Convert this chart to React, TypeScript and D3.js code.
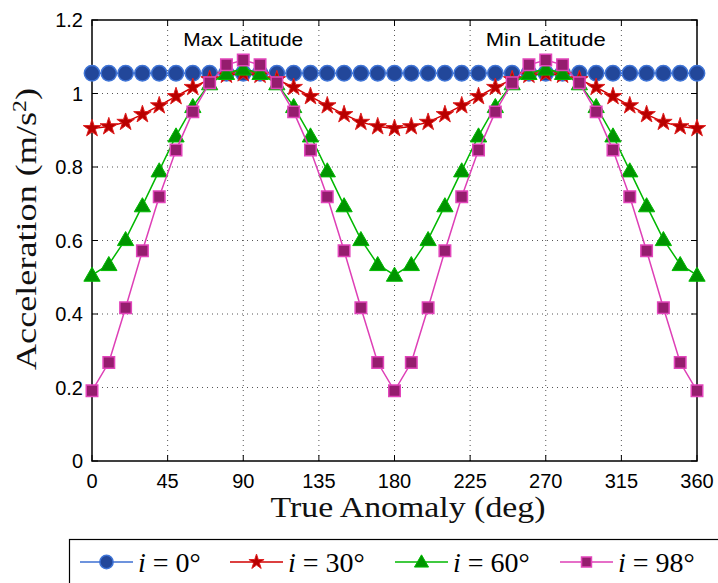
import React from "react";
import * as d3 from "d3";

const anomaly = [0,10,20,30,40,50,60,70,80,90,100,110,120,130,140,150,160,170,180,190,200,210,220,230,240,250,260,270,280,290,300,310,320,330,340,350,360];
const acc0 = [1.055,1.055,1.055,1.055,1.055,1.055,1.055,1.055,1.055,1.055,1.055,1.055,1.055,1.055,1.055,1.055,1.055,1.055,1.055,1.055,1.055,1.055,1.055,1.055,1.055,1.055,1.055,1.055,1.055,1.055,1.055,1.055,1.055,1.055,1.055,1.055,1.055];
const acc30 = [0.905,0.91,0.922,0.943,0.967,0.992,1.017,1.038,1.05,1.054,1.05,1.038,1.017,0.992,0.967,0.943,0.922,0.91,0.905,0.91,0.922,0.943,0.967,0.992,1.017,1.038,1.05,1.054,1.05,1.038,1.017,0.992,0.967,0.943,0.922,0.91,0.905];
const acc60 = [0.506,0.535,0.603,0.695,0.79,0.885,0.965,1.027,1.055,1.067,1.055,1.027,0.965,0.885,0.79,0.695,0.603,0.535,0.506,0.535,0.603,0.695,0.79,0.885,0.965,1.027,1.055,1.067,1.055,1.027,0.965,0.885,0.79,0.695,0.603,0.535,0.506];
const acc98 = [0.191,0.268,0.417,0.572,0.719,0.846,0.95,1.029,1.078,1.091,1.078,1.029,0.95,0.846,0.719,0.572,0.417,0.268,0.191,0.268,0.417,0.572,0.719,0.846,0.95,1.029,1.078,1.091,1.078,1.029,0.95,0.846,0.719,0.572,0.417,0.268,0.191];

const xTicks = [0,45,90,135,180,225,270,315,360];
const yTicks = [0,0.2,0.4,0.6,0.8,1,1.2];
const yTickLabels = ["0","0.2","0.4","0.6","0.8","1","1.2"];
const seriesLabels = ["0", "30", "60", "98"];
const annotations = [{ x: 90, text: "Max Latitude" }, { x: 270, text: "Min Latitude" }];

const W = 718, H = 583;
const L = 92, R = 697, T = 20, B = 461;

const styles = [
  { line: "#3c6fd2", fill: "#22479a", stroke: "#3f74d6", sym: d3.symbolCircle, size: 185, sw: 1.5 },
  { line: "#d00000", fill: "#b80000", stroke: "#e02020", sym: d3.symbolStar, size: 95, sw: 1 },
  { line: "#00b800", fill: "#009400", stroke: "#00bb00", sym: d3.symbolTriangle, size: 115, sw: 1 },
  { line: "#de3fb6", fill: "#951d6e", stroke: "#e245bb", sym: d3.symbolSquare, size: 132, sw: 1.5 },
];

export default function App() {
  const x = d3.scaleLinear().domain([0, 360]).range([L, R]);
  const y = d3.scaleLinear().domain([0, 1.2]).range([B, T]);
  const data = [acc0, acc30, acc60, acc98];
  const line = d3.line<number>().x((_, i) => x(anomaly[i])).y((d) => y(d));
  const serif = "'Liberation Serif', 'DejaVu Serif', serif";
  const sans = "'Liberation Sans', Arial, sans-serif";
  const legendItems = [80, 230, 395, 560];

  return (
    <svg width={W} height={H} style={{ position: "absolute", left: 0, top: 0, background: "#fff" }}>
      <rect x={0} y={0} width={W} height={H} fill="#fff" />
      {/* grid */}
      {xTicks.slice(1, -1).map((t) => (
        <line key={"gx" + t} x1={x(t)} x2={x(t)} y1={T} y2={B} stroke="#555" strokeWidth={1} strokeDasharray="1,4" />
      ))}
      {yTicks.slice(1, -1).map((t) => (
        <line key={"gy" + t} x1={L} x2={R} y1={y(t)} y2={y(t)} stroke="#555" strokeWidth={1} strokeDasharray="1,4" />
      ))}
      {/* ticks */}
      {xTicks.map((t) => (
        <g key={"tx" + t}>
          <line x1={x(t)} x2={x(t)} y1={B} y2={B - 6} stroke="#000" strokeWidth={1} />
          <line x1={x(t)} x2={x(t)} y1={T} y2={T + 6} stroke="#000" strokeWidth={1} />
          <text x={x(t)} y={488} textAnchor="middle" fontFamily={sans} fontSize={20} fill="#000">{t}</text>
        </g>
      ))}
      {yTicks.map((t, i) => (
        <g key={"ty" + t}>
          <line x1={L} x2={L + 6} y1={y(t)} y2={y(t)} stroke="#000" strokeWidth={1} />
          <line x1={R} x2={R - 6} y1={y(t)} y2={y(t)} stroke="#000" strokeWidth={1} />
          <text x={83} y={y(t)} dy="0.36em" textAnchor="end" fontFamily={sans} fontSize={20} fill="#000">{yTickLabels[i]}</text>
        </g>
      ))}
      <rect x={L} y={T} width={R - L} height={B - T} fill="none" stroke="#000" strokeWidth={1.5} />
      {/* series */}
      {data.map((vals, si) => {
        const st = styles[si];
        const sym = d3.symbol().type(st.sym).size(st.size)()!;
        return (
          <g key={"s" + si}>
            <path d={line(vals)!} fill="none" stroke={st.line} strokeWidth={1.5} />
            {vals.map((v, i) => (
              <path key={i} d={sym} transform={`translate(${x(anomaly[i])},${y(v) + (si === 2 ? 1.5 : 0)})`} fill={st.fill} stroke={st.stroke} strokeWidth={st.sw} />
            ))}
          </g>
        );
      })}
      {annotations.map((a) => (
        <text key={a.text} x={x(a.x)} y={46} textAnchor="middle" fontFamily={sans} fontSize={19} fill="#000" textLength={120} lengthAdjust="spacingAndGlyphs">{a.text}</text>
      ))}
      {/* axis labels */}
      <text x={408} y={517} textAnchor="middle" fontFamily={serif} fontSize={29} fill="#111" textLength={275} lengthAdjust="spacingAndGlyphs">True Anomaly (deg)</text>
      <text transform="translate(36,229) rotate(-90)" textAnchor="middle" fontFamily={serif} fontSize={29} fill="#111" textLength={282} lengthAdjust="spacingAndGlyphs">
        Acceleration (m/s<tspan dy={-10} fontSize={19}>2</tspan><tspan dy={10}>)</tspan>
      </text>
      {/* legend */}
      <rect x={69.5} y={539.5} width={700} height={60} fill="#fff" stroke="#000" strokeWidth={1.2} />
      {legendItems.map((lx, si) => {
        const st = styles[si];
        const sym = d3.symbol().type(st.sym).size(st.size * 0.75)()!;
        return (
          <g key={"lg" + si}>
            <line x1={lx} x2={lx + 53} y1={562} y2={562} stroke={st.line} strokeWidth={1.5} />
            <path d={sym} transform={`translate(${lx + 26.5},${562 + (si === 2 ? 1 : 0)})`} fill={st.fill} stroke={st.stroke} strokeWidth={st.sw} />
            <text x={lx + 58} y={572} fontFamily={serif} fontSize={28} fill="#000">
              <tspan fontStyle="italic">i</tspan> = {seriesLabels[si]}°
            </text>
          </g>
        );
      })}
    </svg>
  );
}
